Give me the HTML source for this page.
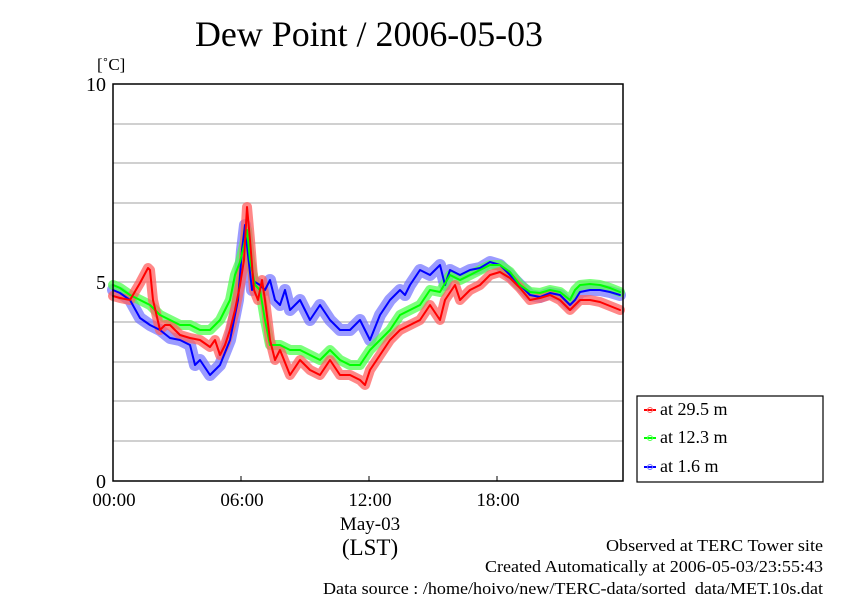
<!DOCTYPE html>
<html><head><meta charset="utf-8"><style>
html,body{margin:0;padding:0;background:#fff;width:842px;height:595px;overflow:hidden}
svg{display:block}
text{font-family:"Liberation Serif",serif;fill:#000}
</style></head><body>
<svg width="842" height="595" xmlns="http://www.w3.org/2000/svg">
<text x="195" y="46" font-size="36" textLength="348" lengthAdjust="spacingAndGlyphs">Dew Point / 2006-05-03</text>
<text x="97" y="70" font-size="17">[˚C]</text>
<g stroke="#b4b4b4" stroke-width="1.2">
<line x1="113" x2="623" y1="124" y2="124"/><line x1="113" x2="623" y1="163" y2="163"/>
<line x1="113" x2="623" y1="203" y2="203"/><line x1="113" x2="623" y1="243" y2="243"/>
<line x1="113" x2="623" y1="282" y2="282"/><line x1="113" x2="623" y1="322" y2="322"/>
<line x1="113" x2="623" y1="362" y2="362"/><line x1="113" x2="623" y1="401" y2="401"/>
<line x1="113" x2="623" y1="441" y2="441"/>
</g>
<g fill="none" stroke-linejoin="round" stroke-linecap="round">
<polyline stroke="#7070ff" stroke-opacity="0.7" stroke-width="12" points="113,290 120,293 130,300 140,318 150,325 160,330 170,338 180,340 190,345 195,365 200,360 210,375 215,370 220,365 230,340 238,300 242,250 245,225 248,255 252,290 255,282 260,285 265,290 270,280 275,300 280,305 285,290 290,310 300,300 310,320 320,305 330,320 340,330 350,330 360,320 370,340 380,315 390,300 400,290 405,295 410,285 420,270 430,275 440,265 445,285 450,270 460,275 470,270 480,268 490,262 500,265 510,275 520,285 530,295 540,297 550,293 560,295 570,305 575,300 580,292 590,290 600,290 610,292 620,295"/>
<polyline stroke="#50ff50" stroke-opacity="0.75" stroke-width="10" points="113,285 120,288 130,295 140,300 150,305 160,315 170,320 180,325 190,325 200,330 210,330 220,320 230,300 235,275 240,262 244,245 247,230 250,260 255,285 260,290 265,320 270,345 280,345 290,350 300,350 310,355 320,360 330,350 340,360 350,365 360,365 370,350 380,340 390,330 400,315 410,310 420,305 430,290 440,292 450,275 460,280 470,275 480,270 490,265 500,265 510,272 520,285 530,292 540,293 550,290 560,292 570,300 575,290 580,285 590,284 600,285 610,288 620,292"/>
<polyline stroke="#ff6060" stroke-opacity="0.75" stroke-width="10" points="113,296 120,298 130,300 140,283 148,268 150,270 153,300 160,330 165,325 170,325 180,335 190,338 200,340 210,347 215,340 220,355 225,345 230,330 235,310 240,285 244,260 247,207 250,240 254,290 258,300 262,280 265,300 270,340 275,360 280,350 290,375 300,360 310,370 320,375 330,360 340,375 350,375 360,380 365,385 370,370 380,355 390,340 400,330 410,325 420,320 430,305 440,320 445,300 455,285 460,300 470,290 480,285 490,275 500,272 510,278 520,288 530,300 540,298 550,295 560,300 570,310 575,305 580,300 590,300 600,302 610,306 620,310"/>
<polyline stroke="#0000ff" stroke-width="2" points="113,290 120,293 130,300 140,318 150,325 160,330 170,338 180,340 190,345 195,365 200,360 210,375 215,370 220,365 230,340 238,300 242,250 245,225 248,255 252,290 255,282 260,285 265,290 270,280 275,300 280,305 285,290 290,310 300,300 310,320 320,305 330,320 340,330 350,330 360,320 370,340 380,315 390,300 400,290 405,295 410,285 420,270 430,275 440,265 445,285 450,270 460,275 470,270 480,268 490,262 500,265 510,275 520,285 530,295 540,297 550,293 560,295 570,305 575,300 580,292 590,290 600,290 610,292 620,295"/>
<polyline stroke="#00ff00" stroke-width="2" points="113,285 120,288 130,295 140,300 150,305 160,315 170,320 180,325 190,325 200,330 210,330 220,320 230,300 235,275 240,262 244,245 247,230 250,260 255,285 260,290 265,320 270,345 280,345 290,350 300,350 310,355 320,360 330,350 340,360 350,365 360,365 370,350 380,340 390,330 400,315 410,310 420,305 430,290 440,292 450,275 460,280 470,275 480,270 490,265 500,265 510,272 520,285 530,292 540,293 550,290 560,292 570,300 575,290 580,285 590,284 600,285 610,288 620,292"/>
<polyline stroke="#ff0000" stroke-width="2" points="113,296 120,298 130,300 140,283 148,268 150,270 153,300 160,330 165,325 170,325 180,335 190,338 200,340 210,347 215,340 220,355 225,345 230,330 235,310 240,285 244,260 247,207 250,240 254,290 258,300 262,280 265,300 270,340 275,360 280,350 290,375 300,360 310,370 320,375 330,360 340,375 350,375 360,380 365,385 370,370 380,355 390,340 400,330 410,325 420,320 430,305 440,320 445,300 455,285 460,300 470,290 480,285 490,275 500,272 510,278 520,288 530,300 540,298 550,295 560,300 570,310 575,305 580,300 590,300 600,302 610,306 620,310"/>
</g>
<rect x="113" y="84" width="510" height="397" fill="none" stroke="#000" stroke-width="1.5"/>
<g stroke="#000" stroke-width="1">
<line x1="241" x2="241" y1="481" y2="476"/><line x1="369" x2="369" y1="481" y2="476"/><line x1="497" x2="497" y1="481" y2="476"/>
</g>
<g font-size="20" text-anchor="end">
<text x="106" y="91">10</text><text x="106" y="289">5</text><text x="106" y="488">0</text>
</g>
<g font-size="19" text-anchor="middle">
<text x="114" y="506">00:00</text><text x="242" y="506">06:00</text><text x="370" y="506">12:00</text><text x="498" y="506">18:00</text>
<text x="370" y="530">May-03</text>
<text x="370" y="555" font-size="23">(LST)</text>
</g>
<rect x="637" y="396" width="186" height="86" fill="#fff" stroke="#000" stroke-width="1.2"/>
<g stroke-width="2">
<line x1="644" x2="656" y1="410" y2="410" stroke="#ff0000"/><circle cx="650" cy="410" r="2.5" fill="none" stroke="#ff6060" stroke-width="1"/>
<line x1="644" x2="656" y1="438" y2="438" stroke="#00ff00"/><circle cx="650" cy="438" r="2.5" fill="none" stroke="#50ff50" stroke-width="1"/>
<line x1="644" x2="656" y1="467" y2="467" stroke="#0000ff"/><circle cx="650" cy="467" r="2.5" fill="none" stroke="#7070ff" stroke-width="1"/>
</g>
<g font-size="18">
<text x="660" y="415">at 29.5 m</text><text x="660" y="443">at 12.3 m</text><text x="660" y="472">at 1.6 m</text>
</g>
<g font-size="17">
<text x="606" y="551" textLength="217" lengthAdjust="spacingAndGlyphs">Observed at TERC Tower site</text>
<text x="485" y="572" textLength="338" lengthAdjust="spacingAndGlyphs">Created Automatically at 2006-05-03/23:55:43</text>
<text x="323" y="594" textLength="500" lengthAdjust="spacingAndGlyphs">Data source : /home/hoivo/new/TERC-data/sorted_data/MET.10s.dat</text>
</g>
</svg>
</body></html>
